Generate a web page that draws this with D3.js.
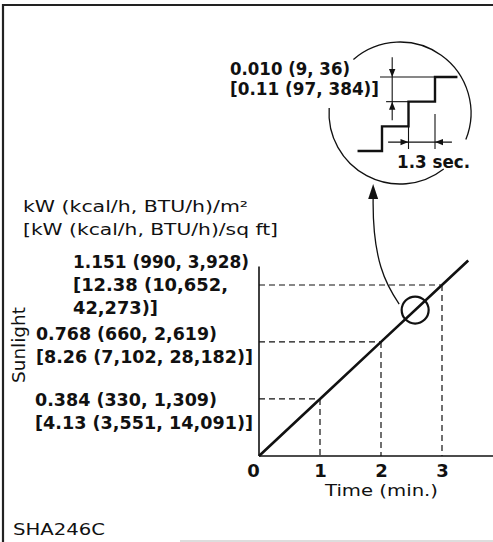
<!DOCTYPE html>
<html>
<head>
<meta charset="utf-8">
<script src="https://cdn.jsdelivr.net/npm/d3@7"></script>
<style>
  html, body { margin: 0; padding: 0; background: #fff; }
  svg { display: block; }
  text { font-family: "DejaVu Sans", sans-serif; fill: #111; }
</style>
</head>
<body>
<svg id="chart" width="493" height="542"></svg>
<script>
// Sunlight sensor output: intensity rising linearly with time
const timeTicks = [0, 1, 2, 3];                       // min
const guideTime = [1, 2, 3];                          // min
const guideSunlight = [0.384, 0.768, 1.151];          // kW/m²
const lineTime = [0, 1, 2, 3, 3.43];                  // min
const lineSunlight = [0, 0.384, 0.768, 1.151, 1.316]; // kW/m²
const sunlightLabels = [
  ["0.384 (330, 1,309)", "[4.13 (3,551, 14,091)]"],
  ["0.768 (660, 2,619)", "[8.26 (7,102, 28,182)]"],
  ["1.151 (990, 3,928)", "[12.38 (10,652,", "42,273)]"]
];
const unitLines = ["kW (kcal/h, BTU/h)/m²", "[kW (kcal/h, BTU/h)/sq ft]"];
const yTitle = "Sunlight";
const xTitle = "Time  (min.)";
const figureCode = "SHA246C";

// Magnified detail: the output rises in discrete steps
const stepTime = [-1.2, 0, 1.3, 2.6, 3.7];            // sec
const stepLevel = [0, 0.010, 0.020, 0.030, 0.030];    // kW/m²
const stepLabels = ["0.010 (9, 36)", "[0.11 (97, 384)]"];
const stepPeriodLabel = "1.3 sec.";
const detailTime = 2.56;                              // min

const svg = d3.select("#chart");
const ink = "#111";

// ---------- frame ----------
svg.append("path")
  .attr("d", "M3,542 L3,5 L493,5")
  .attr("fill", "none").attr("stroke", "#222").attr("stroke-width", 2.2);
svg.append("line")
  .attr("x1", 180).attr("x2", 493).attr("y1", 541).attr("y2", 541)
  .attr("stroke", "#bbb").attr("stroke-width", 1);

// ---------- text helper ----------
function label(str, x, y, w, opt = {}) {
  const t = svg.append("text")
    .attr("x", x).attr("y", y)
    .attr("font-size", opt.size || 17)
    .attr("font-weight", opt.bold ? "bold" : "normal")
    .text(str);
  if (w) t.attr("textLength", w).attr("lengthAdjust", "spacingAndGlyphs");
  if (opt.anchor) t.attr("text-anchor", opt.anchor);
  if (opt.transform) t.attr("transform", opt.transform);
  return t;
}

// ---------- main chart ----------
const x = d3.scaleLinear().domain([0, 3]).range([259, 442]);
const y = d3.scaleLinear().domain([0, 1.151]).range([456, 285]);

// dashed guides to the axes
guideTime.forEach((t, i) => {
  const v = guideSunlight[i];
  svg.append("line")
    .attr("x1", x(0)).attr("x2", x(t)).attr("y1", y(v)).attr("y2", y(v))
    .attr("stroke", ink).attr("stroke-width", 1.2).attr("stroke-dasharray", "6,4");
  svg.append("line")
    .attr("x1", x(t)).attr("x2", x(t)).attr("y1", y(v)).attr("y2", y(0))
    .attr("stroke", ink).attr("stroke-width", 1.2).attr("stroke-dasharray", "6,4");
});

// axes
svg.append("line")
  .attr("x1", x(0)).attr("x2", x(0)).attr("y1", y(0)).attr("y2", y(1.275))
  .attr("stroke", ink).attr("stroke-width", 1.6);
svg.append("line")
  .attr("x1", x(0)).attr("x2", x(3.85)).attr("y1", y(0)).attr("y2", y(0))
  .attr("stroke", ink).attr("stroke-width", 1.6);

const xAxis = svg.append("g")
  .attr("transform", `translate(0,${y(0)})`)
  .call(d3.axisBottom(x).tickValues(timeTicks).tickSize(0).tickPadding(8)
        .tickFormat(d3.format("d")));
xAxis.select(".domain").remove();
xAxis.selectAll("text")
  .attr("font-family", "DejaVu Sans, sans-serif")
  .attr("font-size", 18).attr("font-weight", "bold").attr("fill", ink)
  .attr("dx", d => d === 0 ? -6 : 0);

// sunlight line
svg.append("path")
  .datum(lineTime.map((t, i) => [t, lineSunlight[i]]))
  .attr("d", d3.line().x(d => x(d[0])).y(d => y(d[1])))
  .attr("fill", "none").attr("stroke", ink).attr("stroke-width", 2.6);

// magnified point
const onLine = d3.scaleLinear().domain(lineTime).range(lineSunlight);
const cx = x(detailTime), cy = y(onLine(detailTime));
svg.append("circle")
  .attr("cx", cx).attr("cy", cy).attr("r", 13.5)
  .attr("fill", "none").attr("stroke", ink).attr("stroke-width", 2.2);

// leader to the detail
svg.append("path")
  .attr("d", `M${cx - 16},${cy - 6} C${cx - 29},${cy - 25} ${cx - 43},${cy - 50} ${cx - 42},${cy - 113}`)
  .attr("fill", "none").attr("stroke", ink).attr("stroke-width", 1.3);
svg.append("path")
  .attr("d", `M${cx - 42},${cy - 126} L${cx - 47},${cy - 111} L${cx - 37},${cy - 111} Z`)
  .attr("fill", ink);

// labels on the sunlight axis
const labelRows = [
  { x: 35, y: [406, 429], w: [182, 218] },
  { x: 36, y: [340, 363], w: [181, 217] },
  { x: 73, y: [268, 291, 314], w: [176, 155, 85] }
];
sunlightLabels.forEach((lines, i) => {
  lines.forEach((s, j) => label(s, labelRows[i].x, labelRows[i].y[j], labelRows[i].w[j], { bold: true }));
});

label(unitLines[0], 23, 212, 225, { size: 16 });
label(unitLines[1], 23, 235, 255, { size: 16 });
label(yTitle, 0, 0, 76, { size: 17, transform: "translate(25,383) rotate(-90)" });
label(xTitle, 325, 496, 113, { size: 16 });
label(figureCode, 13, 535, 92, { size: 16 });

// ---------- detail circle ----------
const dcx = 400, dcy = 113, dr = 71;
const rad = a => a * Math.PI / 180;
[[229, 382], [52, 184]].forEach(([a0, a1]) => {
  const p = d3.path();
  p.moveTo(dcx + dr * Math.cos(rad(a0)), dcy + dr * Math.sin(rad(a0)));
  p.arc(dcx, dcy, dr, rad(a0), rad(a1));
  svg.append("path").attr("d", p.toString())
    .attr("fill", "none").attr("stroke", ink).attr("stroke-width", 1.3);
});

const sx = d3.scaleLinear().domain([0, 2.6]).range([382, 435]);
const sy = d3.scaleLinear().domain([0, 0.030]).range([151, 77]);

svg.append("path")
  .datum(stepTime.map((t, i) => [t, stepLevel[i]]))
  .attr("d", d3.line().x(d => sx(d[0])).y(d => sy(d[1])).curve(d3.curveStepAfter))
  .attr("fill", "none").attr("stroke", ink).attr("stroke-width", 2.4);

function thin(x1, y1, x2, y2) {
  svg.append("line").attr("x1", x1).attr("y1", y1).attr("x2", x2).attr("y2", y2)
    .attr("stroke", ink).attr("stroke-width", 1.1);
}
function arrowHead(tx, ty, dir) {
  const L = 8, H = 3.2;
  let pts;
  if (dir === "down") pts = [[tx, ty], [tx - H, ty - L], [tx + H, ty - L]];
  if (dir === "up") pts = [[tx, ty], [tx - H, ty + L], [tx + H, ty + L]];
  if (dir === "right") pts = [[tx, ty], [tx - L, ty - H], [tx - L, ty + H]];
  if (dir === "left") pts = [[tx, ty], [tx + L, ty - H], [tx + L, ty + H]];
  svg.append("path").attr("d", "M" + pts.join("L") + "Z").attr("fill", ink);
}

// step height dimension
const dimX = sx(0.5);
thin(sx(-0.1), sy(0.030), sx(2.6), sy(0.030));
thin(sx(0.2), sy(0.020), sx(1.3), sy(0.020));
thin(dimX, sy(0.038), dimX, sy(0.0125));
arrowHead(dimX, sy(0.030), "down");
arrowHead(dimX, sy(0.020), "up");

// step period dimension
const dimY = sy(0.0036);
thin(sx(1.3), sy(0.010), sx(1.3), sy(0.0008));
thin(sx(2.6), sy(0.015), sx(2.6), sy(0.0008));
thin(sx(0.3), dimY, sx(3.43), dimY);
arrowHead(sx(1.3), dimY, "right");
arrowHead(sx(2.6), dimY, "left");

label(stepLabels[0], 230, 75, 120, { bold: true });
label(stepLabels[1], 230, 95, 149, { bold: true });
label(stepPeriodLabel, 397, 168, 73, { bold: true });
</script>
</body>
</html>
